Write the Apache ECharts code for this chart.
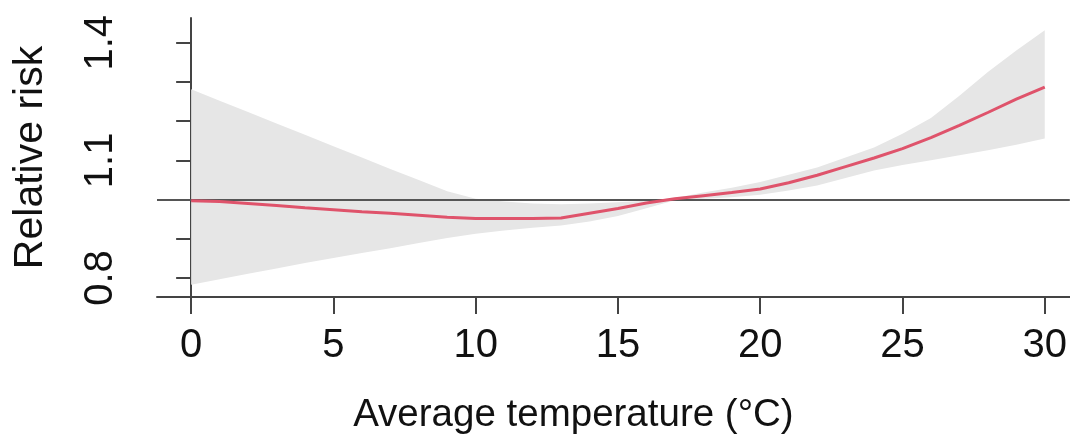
<!DOCTYPE html>
<html>
<head>
<meta charset="utf-8">
<script src="https://cdn.jsdelivr.net/npm/echarts@6/dist/echarts.min.js"></script>
<style>
  html, body { margin: 0; padding: 0; background: #fff; }
  #chart { width: 1070px; height: 445px; }
</style>
</head>
<body>
<div id="chart"></div>
<script>
  // temperature (°C) and relative risk with its confidence band
  const temps = [0, 1, 2, 3, 4, 5, 6, 7, 8, 9, 10, 11, 12, 13, 14, 15, 16, 17, 18, 19, 20,
                 21, 22, 23, 24, 25, 26, 27, 28, 29, 30];
  const rr = [0.997, 0.995, 0.990, 0.985, 0.979, 0.974, 0.969, 0.965, 0.960, 0.955, 0.952,
              0.952, 0.952, 0.953, 0.965, 0.977, 0.991, 1.002, 1.010, 1.018, 1.027,
              1.043, 1.062, 1.084, 1.106, 1.130, 1.158, 1.189, 1.222, 1.256, 1.287];
  const upper = [1.281, 1.252, 1.223, 1.194, 1.165, 1.136, 1.107, 1.078, 1.050, 1.021, 1.002,
                 0.995, 0.990, 0.988, 0.990, 0.993, 0.997, 1.004, 1.018, 1.030, 1.045,
                 1.063, 1.082, 1.107, 1.133, 1.168, 1.208, 1.265, 1.325, 1.380, 1.432];
  const lower = [0.783, 0.797, 0.811, 0.824, 0.838, 0.851, 0.864, 0.876, 0.889, 0.902, 0.913,
                 0.921, 0.928, 0.934, 0.944, 0.958, 0.978, 0.998, 1.002, 1.006, 1.012,
                 1.023, 1.036, 1.055, 1.074, 1.088, 1.100, 1.113, 1.126, 1.140, 1.156];
  const xTicks = [0, 5, 10, 15, 20, 25, 30];
  const yTicks = [0.8, 0.9, 1.0, 1.1, 1.2, 1.3, 1.4];
  const yLabels = [0.8, 1.1, 1.4];
  const refLine = 1.0;

  const font = 'Liberation Sans, Arial, Helvetica, sans-serif';
  const axisColor = '#444';

  let myChart = echarts.init(document.getElementById('chart'));
  myChart.setOption({
    animation: false,
    grid: { left: 157, right: 0, top: 18, bottom: 148, containLabel: false },
    xAxis: {
      type: 'value',
      min: -1.2,
      max: 30.88,
      name: 'Average temperature (°C)',
      nameLocation: 'middle',
      nameGap: 99,
      nameTextStyle: { fontFamily: font, fontSize: 38.5, color: '#111', padding: [0, 80, 0, 0] },
      axisLine: { show: true, lineStyle: { color: axisColor, width: 2 } },
      axisTick: { show: true, length: 17, customValues: xTicks, lineStyle: { color: axisColor, width: 2 } },
      axisLabel: { customValues: xTicks, margin: 29, fontFamily: font, fontSize: 40, color: '#111' },
      splitLine: { show: false }
    },
    yAxis: {
      type: 'value',
      min: 0.7515,
      max: 1.463,
      name: 'Relative risk',
      nameLocation: 'middle',
      nameGap: 106,
      nameRotate: 90,
      nameTextStyle: { fontFamily: font, fontSize: 41, color: '#111' },
      axisLine: { show: true, lineStyle: { color: axisColor, width: 2 } },
      axisTick: { show: true, length: 15, customValues: yTicks, lineStyle: { color: axisColor, width: 2 } },
      axisLabel: {
        customValues: yLabels,
        rotate: 90,
        margin: 36,
        fontFamily: font,
        fontSize: 40,
        color: '#111',
        formatter: (v) => v.toFixed(1)
      },
      splitLine: { show: false }
    },
    series: [
      {
        // confidence band drawn as one polygon through the axis scales
        name: 'band',
        type: 'custom',
        z: 1,
        silent: true,
        data: temps.map((t, i) => [t, lower[i], upper[i]]),
        renderItem: (params, api) => {
          if (params.dataIndex !== 0) return null;
          const pts = [];
          for (let i = 0; i < temps.length; i++) pts.push(api.coord([temps[i], upper[i]]));
          for (let i = temps.length - 1; i >= 0; i--) pts.push(api.coord([temps[i], lower[i]]));
          return {
            type: 'polygon',
            shape: { points: pts },
            style: { fill: '#e6e6e6', stroke: null }
          };
        }
      },
      {
        name: 'rr',
        type: 'line',
        symbol: 'none',
        z: 5,
        lineStyle: { color: '#df536b', width: 3 },
        data: temps.map((t, i) => [t, rr[i]]),
        markLine: {
          silent: true,
          symbol: 'none',
          label: { show: false },
          lineStyle: { color: '#555', width: 2, type: 'solid' },
          data: [{ yAxis: refLine }]
        }
      }
    ]
  });
</script>
</body>
</html>
